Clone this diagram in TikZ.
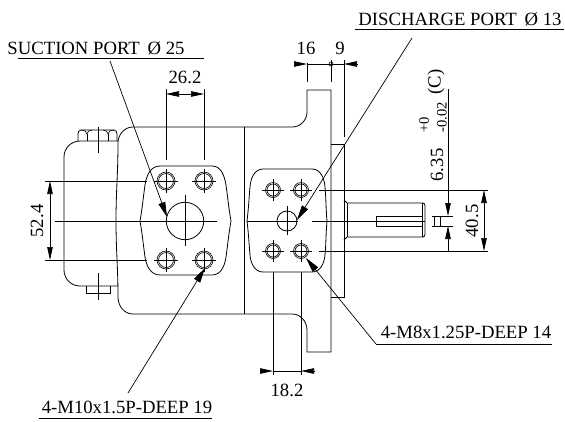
\documentclass[tikz,border=0pt]{standalone}
\usepackage{fontspec}
\setmainfont{Liberation Serif}
\usetikzlibrary{
    arrows.meta,% long dimension tips
    positioning%
}
\tikzset{
    outline/.style={line width=0.8pt},
    thinline/.style={line width=0.7pt},
    holeline/.style={line width=0.6pt},
    dimtip/.style={-{Triangle[length=13pt,width=5.5pt]},line width=0.7pt},
    dimboth/.style={{Triangle[length=13pt,width=5.5pt]}-{Triangle[length=13pt,width=5.5pt]},line width=0.7pt},
    leader/.style={-{Triangle[length=15pt,width=7pt]},line width=0.7pt},
    underline/.style={line width=0.9pt},
    dimtext/.style={font=\fontsize{18.7}{20}\selectfont,inner sep=0pt},
    smalltext/.style={font=\fontsize{14.5}{16}\selectfont,inner sep=0pt},
}

\begin{document}
\begin{tikzpicture}[x=1pt,y=-1pt]
    \useasboundingbox (0,0) rectangle (565,421);

    \draw[outline] (133,127) %%% pump body with flange
    -- (292,127)
    to [out=0,in=270] (307,112)
    -- (307,90) -- (331,90) -- (331,352) -- (307,352) -- (307,330)
    to [out=90,in=0] (292,314)
    -- (133,314)
    to [out=180,in=270] (118,297)
    to [out=90,in=270] (116,221)
    to [out=90,in=270] (118,143)
    to [out=90,in=180] (133,127);
    \draw[outline] (244,127) -- (244,314);

    \draw[outline] (118,141) %%% rear cover
    -- (80,141)
    to [out=180,in=90] (64,157)
    -- (64,270)
    to [out=270,in=180] (80,286)
    -- (118,286);

    \draw[outline] (78,141) -- (78,134) %%% top bolt
    to [out=90,in=180] (81,130) -- (114,130)
    to [out=0,in=90] (117,134) -- (117,141);
    \draw[holeline] (87,141) -- (87,134) (108,141) -- (108,134);
    \draw[holeline] (81,130) to [out=0,in=90] (87,134)
    to [out=90,in=180] (92,130);
    \draw[holeline] (103,130) to [out=0,in=90] (108,134)
    to [out=90,in=180] (114,130);
    \draw[thinline] (98,127) -- (98,153);

    \draw[outline] (86,286) -- (86,293) -- (110,293) -- (110,286); %%% bottom bolt
    \draw[thinline] (98,273) -- (98,300);

    \draw[outline] (160,166) -- (212,166) %%% suction port plate
    to [out=0,in=100] (226,185)
    to [out=278,in=100] (231,221)
    to [out=260,in=82] (226,257)
    to [out=262,in=0] (212,275)
    -- (160,275)
    to [out=180,in=278] (145,257)
    to [out=98,in=280] (140,221)
    to [out=80,in=262] (145,185)
    to [out=82,in=180] (160,166);

    \draw[outline] (263,169) -- (312,169) %%% discharge port plate
    to [out=0,in=95] (325,187)
    to [out=275,in=95] (327,221)
    to [out=265,in=85] (325,255)
    to [out=265,in=0] (312,272)
    -- (263,272)
    to [out=180,in=275] (250,255)
    to [out=95,in=277] (247,221)
    to [out=83,in=265] (250,187)
    to [out=85,in=180] (263,169);

    %%% suction port holes
    \draw[holeline] (166,181) circle (9) circle (7.5);
    \draw[holeline] (204,181) circle (9) circle (7.5);
    \draw[holeline] (166,260) circle (9) circle (7.5);
    \draw[holeline] (204,260) circle (9) circle (7.5);
    \draw[thinline] (154,181) -- (178,181) (166,169) -- (166,193);
    \draw[thinline] (192,181) -- (216,181) (204,169) -- (204,193);
    \draw[thinline] (154,260) -- (178,260) (166,248) -- (166,272);
    \draw[thinline] (192,260) -- (216,260) (204,248) -- (204,272);
    \draw[outline] (185,221) circle (18.7);
    \draw[thinline] (185,195) -- (185,246);
    \draw[thinline] (55,221) -- (217,221);

    %%% discharge port holes
    \draw[holeline] (273,190) circle (7.5) circle (6);
    \draw[holeline] (301,190) circle (7.5) circle (6);
    \draw[holeline] (273,251) circle (7.5) circle (6);
    \draw[holeline] (301,251) circle (7.5) circle (6);
    \draw[thinline] (262,190) -- (284,190) (273,179) -- (273,201);
    \draw[thinline] (290,190) -- (312,190) (301,179) -- (301,201);
    \draw[thinline] (262,251) -- (284,251) (273,240) -- (273,262);
    \draw[thinline] (290,251) -- (312,251) (301,240) -- (301,262);
    \draw[outline] (287,221) circle (10);
    \draw[thinline] (287,206) -- (287,235);
    \draw[thinline] (247,221) -- (298,221);
    \draw[thinline] (312,221) -- (425,221);

    \draw[outline] (331,144) -- (344,144) -- (344,297) -- (331,297); %%% mounting face

    \draw[outline] (344,200) -- (347,203) -- (423,203) %%% shaft
    to [out=0,in=90] (425,206) -- (425,234)
    to [out=270,in=0] (423,237) -- (347,237) -- (344,240);
    \draw[outline] (347,203) -- (347,237);
    \draw[holeline] (422,203) -- (422,237);
    \draw[outline] (376,216) -- (422,216) (376,226) -- (422,226) (376,216) -- (376,226);

    %%% 26.2
    \draw[thinline] (166,89) -- (166,160);
    \draw[thinline] (204,89) -- (204,160);
    \draw[dimboth] (166,94) -- (204,94);
    \node[dimtext] (dimsuctionpitch) at (185,77) {26.2};

    %%% 52.4
    \draw[thinline] (45,181) -- (147,181);
    \draw[thinline] (45,260) -- (147,260);
    \draw[dimboth] (50,181) -- (50,260);
    \node[dimtext,rotate=90] (dimsuctionheight) at (37,221) {52.4};

    %%% 16 and 9
    \draw[thinline] (307,63) -- (307,82);
    \draw[thinline] (331,60) -- (331,82);
    \draw[thinline] (344,60) -- (344,137);
    \draw[thinline] (307,64) -- (344,64);
    \draw[dimtip] (294,64) -- (307,64);
    \draw[dimtip] (357,64) -- (344,64);
    \draw[holeline] (331,64) circle (2);
    \node[dimtext] (dimflange) at (306,48) {16};
    \node[dimtext] (dimface) at (340,48) {9};

    %%% 18.2
    \draw[thinline] (273,272) -- (273,375);
    \draw[thinline] (301,272) -- (301,375);
    \draw[thinline] (273,371) -- (301,371);
    \draw[dimtip] (260,371) -- (273,371);
    \draw[dimtip] (314,371) -- (301,371);
    \node[dimtext] (dimdischargepitch) at (287,390) {18.2};

    %%% 40.5
    \draw[thinline] (319,190) -- (488,190);
    \draw[thinline] (319,251) -- (488,251);
    \draw[dimboth] (484,190) -- (484,251);
    \node[dimtext,rotate=90] (dimdischargeheight) at (472,221) {40.5};

    %%% key width
    \draw[thinline] (432,216) -- (453,216);
    \draw[thinline] (432,226) -- (453,226);
    \draw[holeline] (434,216) -- (434,226) (440,216) -- (440,226);
    \draw[thinline] (448,89) -- (448,203);
    \draw[thinline] (448,239) -- (448,251);
    \draw[dimtip] (448,203) -- (448,216);
    \draw[dimtip] (448,239) -- (448,226);
    \node[dimtext,rotate=90] (dimkey) at (437,165) {6.35};
    \node[smalltext,rotate=90] (dimkeyupper) at (424,125) {+0};
    \node[smalltext,rotate=90] (dimkeylower) at (442,117) {-0.02};
    \node[dimtext,rotate=90] (dimkeynote) at (436,82) {(C)};

    %%% port labels
    \node[dimtext] (suctionlabel) at (96,48) {SUCTION PORT \,Ø 25};
    \draw[underline] (18,58.5) -- (204,58.5);
    \draw[leader] (110,61) -- (167,217);

    \node[dimtext] (dischargelabel) at (460,19) {DISCHARGE PORT \,Ø 13};
    \draw[underline] (355,29) -- (564,29);
    \draw[leader] (412,38) -- (297,220);

    \node[dimtext] (tapeighthlabel) at (466,332) {4-M8x1.25P-DEEP 14};
    \draw[underline] (376,344) -- (552,344);
    \draw[leader] (376,344) -- (306,258);

    \node[dimtext] (taptenlabel) at (127,407) {4-M10x1.5P-DEEP 19};
    \draw[underline] (39,418) -- (212,418);
    \draw[leader] (128,393) -- (205,268);
\end{tikzpicture}
\end{document}
